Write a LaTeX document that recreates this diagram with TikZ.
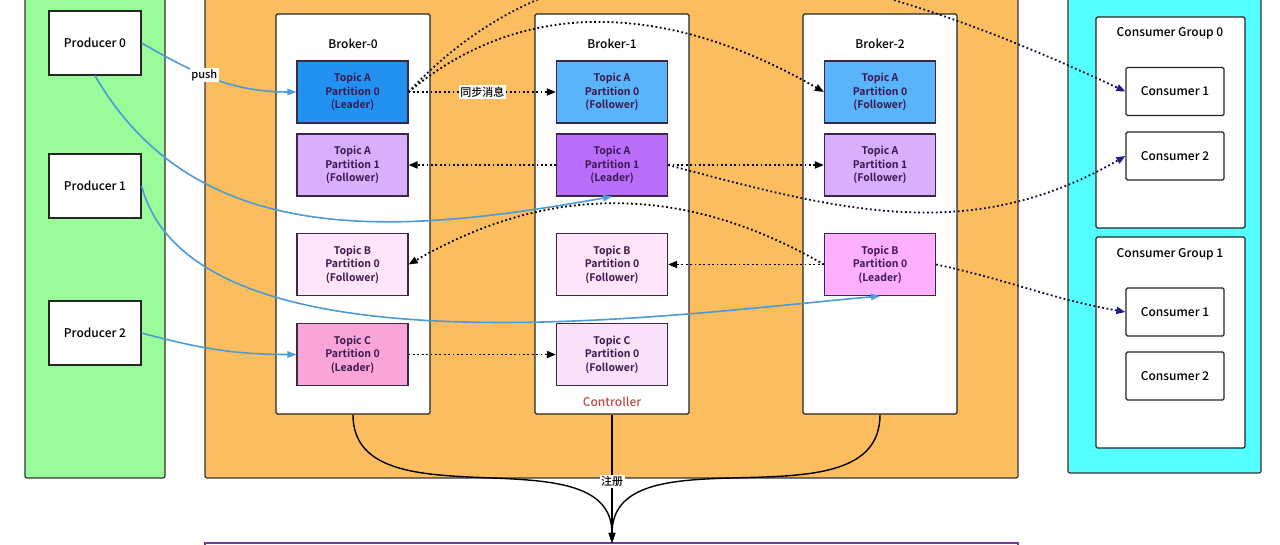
\documentclass[tikz,border=0pt]{standalone}
\usepackage{fontspec}
\IfFontExistsTF{Noto Sans CJK SC Medium}
  {\setmainfont{Noto Sans CJK SC Medium}[BoldFont={Noto Sans CJK SC Bold}]}
  {\setmainfont{Noto Sans CJK SC}}
\usetikzlibrary{arrows.meta}

\definecolor{prodgreen}{RGB}{153,251,153}
\definecolor{brokerorange}{RGB}{252,189,95}
\definecolor{consumercyan}{RGB}{85,255,255}
\definecolor{leaderblue}{RGB}{35,145,240}
\definecolor{followerblue}{RGB}{90,180,250}
\definecolor{leaderviolet}{RGB}{185,110,250}
\definecolor{followerviolet}{RGB}{215,175,250}
\definecolor{leaderpink}{RGB}{255,175,255}
\definecolor{followerpink}{RGB}{255,228,250}
\definecolor{leaderrose}{RGB}{249,165,215}
\definecolor{followerrose}{RGB}{250,225,250}
\definecolor{partline}{RGB}{60,40,70}
\definecolor{parttext}{RGB}{60,25,80}
\definecolor{flowblue}{RGB}{75,155,215}
\definecolor{tipnavy}{RGB}{30,30,140}
\definecolor{ctrlred}{RGB}{180,80,80}
\definecolor{regpurple}{RGB}{110,60,150}

\begin{document}
\begin{tikzpicture}[x=1pt,y=1pt,
    panel/.style={draw=black!80,line width=1.2pt,rounded corners=2pt},
    box/.style={draw=black!85,line width=1.2pt,fill=white,rounded corners=1.5pt,inner sep=0pt},
    part/.style={draw=partline,line width=1.2pt,minimum width=111pt,minimum height=62pt,inner sep=0pt,
        align=center,text=parttext,font=\fontsize{10.5}{13.5}\selectfont\bfseries},
    title/.style={font=\fontsize{12}{14}\selectfont},
    flow/.style={draw=flowblue,line width=1.6pt,-{Triangle[length=9pt,width=6.5pt]}},
    sync/.style={draw=black,line width=1.8pt,dash pattern=on 1.8pt off 2.6pt,-{Triangle[length=9pt,width=7pt]}},
    pull/.style={draw=black!60!tipnavy,line width=1.8pt,dash pattern=on 1.8pt off 2.6pt,
        -{Triangle[length=9pt,width=7pt,color=tipnavy]}},
    ctl/.style={draw=black,line width=1.4pt,-{Triangle[length=10pt,width=6.5pt]}},
    lbl/.style={fill=white,inner sep=1.5pt,font=\fontsize{11}{12}\selectfont},
  ]
  \useasboundingbox (0,0) rectangle (1280,545);
  \clip (0,0) rectangle (1280,545);

  % big panels, cut by the frame
  \draw[panel,fill=prodgreen] (25,67) rectangle (165,580);
  \draw[panel,fill=brokerorange] (205,67) rectangle (1018,580);
  \draw[panel,fill=consumercyan] (1068,72) rectangle (1261,580);
  \draw[line width=1.5pt,draw=regpurple,fill=white] (205,-40) rectangle (1018,2);
  \coordinate (reg) at (612,2);

  % producers
  \begin{scope}[every node/.style={box,title,rounded corners=0pt,minimum width=92pt,minimum height=64pt}]
    \node (p0) at (95,502) {Producer 0};
    \node (p1) at (95,359) {Producer 1};
    \node (p2) at (95,212) {Producer 2};
  \end{scope}

  % brokers
  \begin{scope}[every node/.style={box,minimum width=154pt,minimum height=400pt}]
    \node (bk0) at (353,331) {};
    \node (bk1) at (612,331) {};
    \node (bk2) at (880,331) {};
  \end{scope}
  \node[title] (bl0) at (353,501) {Broker-0};
  \node[title] (bl1) at (612,501) {Broker-1};
  \node[title] (bl2) at (880,501) {Broker-2};
  \node[title,text=ctrlred] (ctrl) at (612,143) {Controller};

  % partitions
  \node[part,fill=leaderblue] (b0a0) at (352.5,453) {Topic A\\Partition 0\\(Leader)};
  \node[part,fill=followerviolet] (b0a1) at (352.5,380) {Topic A\\Partition 1\\(Follower)};
  \node[part,fill=followerpink] (b0b) at (352.5,280.5) {Topic B\\Partition 0\\(Follower)};
  \node[part,fill=leaderrose] (b0c) at (352.5,190.5) {Topic C\\Partition 0\\(Leader)};
  \node[part,fill=followerblue] (b1a0) at (612,453) {Topic A\\Partition 0\\(Follower)};
  \node[part,fill=leaderviolet] (b1a1) at (612,380) {Topic A\\Partition 1\\(Leader)};
  \node[part,fill=followerpink] (b1b) at (612,280.5) {Topic B\\Partition 0\\(Follower)};
  \node[part,fill=followerrose] (b1c) at (612,190.5) {Topic C\\Partition 0\\(Follower)};
  \node[part,fill=followerblue] (b2a0) at (880,453) {Topic A\\Partition 0\\(Follower)};
  \node[part,fill=followerviolet] (b2a1) at (880,380) {Topic A\\Partition 1\\(Follower)};
  \node[part,fill=leaderpink] (b2b) at (880,280.5) {Topic B\\Partition 0\\(Leader)};

  % consumer groups
  \begin{scope}[every node/.style={box,minimum width=149pt,minimum height=211pt}]
    \node (cg0) at (1170.5,422.5) {};
    \node (cg1) at (1170.5,202.5) {};
  \end{scope}
  \node[title] (gl0) at (1170,512) {Consumer Group 0};
  \node[title] (gl1) at (1170,291) {Consumer Group 1};
  \begin{scope}[every node/.style={box,title,minimum width=98pt,minimum height=48pt}]
    \node (c01) at (1175,453.5) {Consumer 1};
    \node (c02) at (1175,389) {Consumer 2};
    \node (c11) at (1175,233) {Consumer 1};
    \node (c12) at (1175,169) {Consumer 2};
  \end{scope}

  % producers push
  \draw (p0.east) edge [flow,out=-30,in=180] node[lbl,pos=0.42] {push} (b0a0.west);
  \draw (p0.south) edge [flow,out=-60,in=-170] (b1a1.south);
  \draw (p1.east) edge [flow,out=-75,in=-175,looseness=0.7] (b2b.south);
  \draw (p2.east) edge [flow,out=-15,in=180] (b0c.west);

  % replication
  \draw (b0a0.east) edge [sync] node[lbl] {同步消息} (b1a0.west);
  \draw (b0a0.east) edge [sync,out=40,in=150] (b2a0.west);
  \draw (b1a1.west) edge [sync] (b0a1.east);
  \draw (b1a1.east) edge [sync] (b2a1.west);
  \draw (b2b.west) edge [sync] (b1b.east);
  \draw (b2b.west) edge [sync,out=150,in=30] (b0b.east);
  \draw (b0c.east) edge [sync] (b1c.west);

  % consumers
  \draw (b0a0.east) edge [pull,out=47,in=155] (c01.west);
  \draw (b1a1.east) edge [pull,out=-15,in=-150] (c02.west);
  \draw (b2b.east) edge [pull,out=-12,in=170] (c11.west);

  % register
  \draw (bk0.south) edge [ctl,out=-90,in=90] (reg);
  \draw (bk2.south) edge [ctl,out=-90,in=90] (reg);
  \draw (bk1.south) edge [ctl] node[lbl,pos=0.52] {注册} (reg);
\end{tikzpicture}
\end{document}
